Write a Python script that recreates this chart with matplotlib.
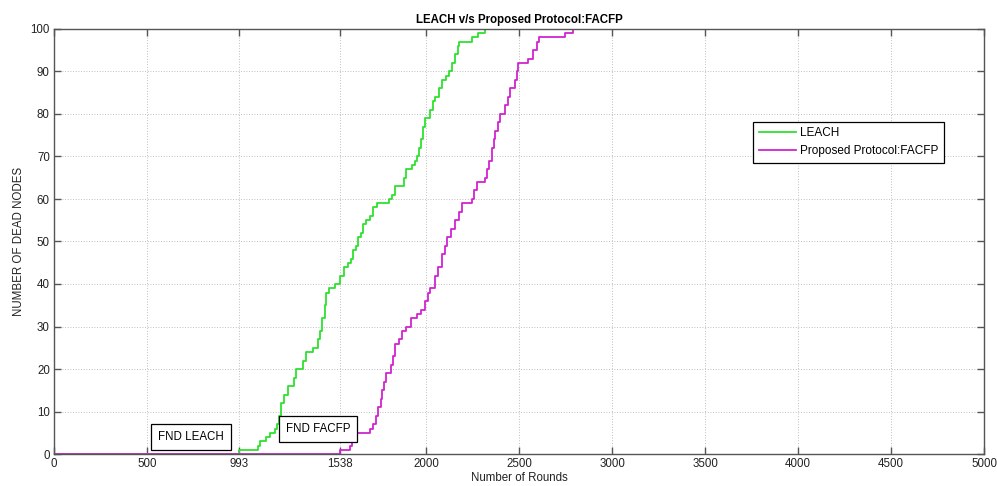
import matplotlib
matplotlib.use("Agg")
import matplotlib.pyplot as plt

plt.rcParams['font.family'] = ['Liberation Sans', 'DejaVu Sans']

title = "LEACH v/s Proposed Protocol:FACFP"
x_label = "Number of Rounds"
y_label = "NUMBER OF DEAD NODES"
series_names = ["LEACH", "Proposed Protocol:FACFP"]

x_ticks = [0, 500, 993, 1538, 2000, 2500, 3000, 3500, 4000, 4500, 5000]
y_ticks = [0, 10, 20, 30, 40, 50, 60, 70, 80, 90, 100]

leach_rounds = [0, 993, 1097, 1105, 1140, 1160, 1190, 1200, 1212, 1222, 1235, 1256, 1290, 1300,
                1340, 1354, 1395, 1417, 1430, 1443, 1455, 1465, 1480, 1510, 1540, 1560, 1580,
                1596, 1610, 1625, 1637, 1649, 1662, 1676, 1700, 1715, 1738, 1800, 1818, 1836,
                1880, 1890, 1926, 1940, 1952, 1965, 1975, 1985, 1995, 2024, 2040, 2051, 2070,
                2087, 2105, 2122, 2140, 2158, 2170, 2180, 2247, 2280, 2319]
leach_dead = [0, 1, 2, 3, 4, 5, 6, 7, 9, 12, 14, 16, 18, 20,
              22, 24, 25, 27, 29, 32, 35, 38, 39, 40, 42, 44, 45,
              46, 48, 49, 51, 52, 54, 55, 56, 58, 59, 60, 61, 63,
              65, 67, 68, 69, 70, 72, 74, 77, 79, 81, 83, 84, 86,
              88, 89, 90, 92, 94, 96, 97, 98, 99, 100]

facfp_rounds = [0, 1538, 1590, 1604, 1620, 1631, 1700, 1715, 1729, 1742, 1756, 1766, 1775, 1783,
                1810, 1820, 1836, 1855, 1872, 1895, 1917, 1950, 1975, 1997, 2010, 2024, 2051,
                2065, 2087, 2100, 2113, 2135, 2158, 2175, 2194, 2247, 2260, 2274, 2319, 2330,
                2337, 2355, 2365, 2372, 2385, 2399, 2426, 2440, 2453, 2480, 2490, 2497, 2551,
                2575, 2596, 2610, 2747, 2792]
facfp_dead = [0, 1, 2, 3, 4, 5, 6, 7, 9, 11, 13, 15, 17, 19,
              21, 23, 26, 27, 29, 30, 32, 33, 34, 36, 38, 39, 42,
              44, 47, 49, 51, 53, 55, 57, 59, 60, 62, 64, 65, 67,
              69, 72, 74, 76, 78, 80, 82, 84, 86, 88, 90, 92, 93,
              95, 97, 98, 99, 100]

annotations = ["FND LEACH", "FND FACFP"]

fig = plt.figure(figsize=(9.97, 4.86), dpi=100)
ax = fig.add_axes([54/997, 32/486, 930/997, 425/486])

ax.plot(leach_rounds, leach_dead, drawstyle='steps-post', color='#2ee02e', lw=1.3, label=series_names[0])
ax.plot(facfp_rounds, facfp_dead, drawstyle='steps-post', color='#d024d0', lw=1.3, label=series_names[1])

ax.set_xlim(0, 5000)
ax.set_ylim(0, 100)
ax.set_xticks(x_ticks)
ax.set_xticklabels([str(t) for t in x_ticks])
ax.set_yticks(y_ticks)
ax.tick_params(direction='in', top=True, right=True, length=5, width=1, color='#555555',
               labelsize=8.3, pad=3, labelcolor='#222222')
ax.grid(True, linestyle=(0, (1, 2.2)), color='#aaaaaa', linewidth=0.6)
for s in ax.spines.values():
    s.set_color('#555555')
    s.set_linewidth(1)

ax.set_title(title, fontsize=8.3, fontweight='bold', pad=4)
ax.set_xlabel(x_label, fontsize=8.3, labelpad=1, color='#222222')
ax.set_ylabel(y_label, fontsize=8.3, labelpad=4, color='#222222')

box = dict(boxstyle='square,pad=0.6', facecolor='white', edgecolor='black', linewidth=0.9)
ax.text(738, 4.0, annotations[0], fontsize=8.3, ha='center', va='center', bbox=box)
ax.text(1419, 5.8, annotations[1], fontsize=8.3, ha='center', va='center', bbox=box)

leg = ax.legend(loc='upper left', bbox_to_anchor=(0.752, 0.782), fontsize=8.5, frameon=True,
                fancybox=False, edgecolor='black', framealpha=1, borderpad=0.45,
                handlelength=3.2, handletextpad=0.3, labelspacing=0.55, borderaxespad=0)
leg.get_frame().set_linewidth(0.9)

fig.savefig("out.png", dpi=100)
